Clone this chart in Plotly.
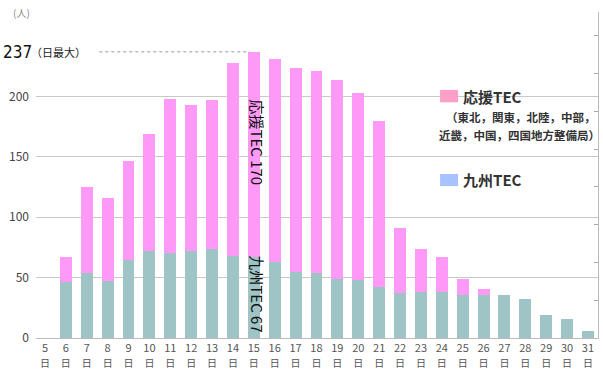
import plotly.graph_objects as go

days = list(range(5, 32))
kyushu = [0, 46, 54, 47, 65, 72, 70, 72, 74, 68, 67, 63, 55, 54, 49, 48, 42,
          37, 38, 38, 36, 36, 36, 32, 19, 16, 6]
total = [0, 67, 125, 116, 147, 169, 198, 193, 197, 228, 237, 231, 224, 221, 214, 203, 180,
         91, 74, 67, 49, 41, 36, 32, 19, 16, 6]
support = [t - k for t, k in zip(total, kyushu)]
tick_labels = [f"{d}<br><span style='font-size:10px'>日</span>" for d in days]
y_ticks = [0, 50, 100, 150, 200]

JP = "Noto Sans CJK JP"
PINK = "#FF99F8"
TEAL = "#9EC4C6"

fig = go.Figure()
fig.add_bar(x=days, y=kyushu, marker_color=TEAL, width=0.57, marker_line_width=0,
            showlegend=False)
fig.add_bar(x=days, y=support, marker_color=PINK, width=0.57, marker_line_width=0,
            showlegend=False)
# invisible trace for decorative right axis
fig.add_scatter(x=[days[0]], y=[0], yaxis="y2", mode="markers",
                marker_opacity=0, showlegend=False, hoverinfo="skip")

fig.update_layout(
    barmode="stack",
    width=603, height=370,
    margin=dict(l=36, r=5, t=12, b=32),
    plot_bgcolor="white", paper_bgcolor="white",
    font=dict(family=JP, color="#444"),
    xaxis=dict(range=[4.57, 31.48], tickmode="array", tickvals=days, ticktext=tick_labels,
               tickfont=dict(size=11, color="#555"), showgrid=False, zeroline=False,
               showline=True, linecolor="#bbbbbb", ticks="", automargin=False),
    yaxis=dict(range=[0, 270], tickvals=y_ticks, tickfont=dict(size=12, color="#444"),
               showgrid=True, gridcolor="#c8c8c8", gridwidth=1, zeroline=False,
               ticks="", ticklabelstandoff=6, automargin=False),
    yaxis2=dict(overlaying="y", side="right", range=[0, 270], dtick=31.3,
                showticklabels=False, ticks="inside", ticklen=4, tickcolor="#aaaaaa",
                showline=True, linecolor="#bbbbbb", showgrid=False, zeroline=False,
                automargin=False),
)

# dotted max line
fig.add_shape(type="line", x0=7.6, x1=14.8, y0=max(total), y1=max(total),
              line=dict(color="#999", width=1, dash="dot"), layer="below")

ann = []
ann.append(dict(xref="paper", yref="y", x=-0.063, y=max(total), xanchor="left",
                text=str(max(total)), showarrow=False,
                font=dict(family="Liberation Sans Narrow, DejaVu Sans Condensed", size=17, color="#111")))
ann.append(dict(xref="paper", yref="y", x=-0.012, y=max(total), xanchor="left",
                text="（日最大）", showarrow=False, font=dict(family=JP, size=11, color="#222")))
ann.append(dict(xref="paper", yref="paper", x=-0.045, y=1.0, xanchor="left", yanchor="middle",
                text="(人)", showarrow=False, font=dict(family=JP, size=10, color="#888")))
ann.append(dict(x=15.2, y=162, text=f"応援TEC {support[10]}", textangle=90, showarrow=False,
                font=dict(family=JP, size=15, color="#111")))
ann.append(dict(x=15.2, y=37, text=f"九州TEC {kyushu[10]}", textangle=90, showarrow=False,
                font=dict(family=JP, size=15, color="#111")))
# legend
ann.append(dict(xref="paper", yref="paper", x=0.756, y=0.742, xanchor="left", yanchor="middle",
                text="<b>応援TEC</b>", showarrow=False, font=dict(family=JP, size=15, color="#333")))
ann.append(dict(xref="paper", yref="paper", x=1.0, y=0.678, xanchor="right", yanchor="middle",
                text="<b>（東北，関東，北陸，中部，</b>", showarrow=False, font=dict(family=JP, size=11.5, color="#333")))
ann.append(dict(xref="paper", yref="paper", x=1.008, y=0.623, xanchor="right", yanchor="middle",
                text="<b>近畿，中国，四国地方整備局）</b>", showarrow=False, font=dict(family=JP, size=11.5, color="#333")))
ann.append(dict(xref="paper", yref="paper", x=0.756, y=0.485, xanchor="left", yanchor="middle",
                text="<b>九州TEC</b>", showarrow=False, font=dict(family=JP, size=15, color="#333")))
fig.update_layout(annotations=ann)

fig.add_shape(type="rect", xref="paper", yref="paper", x0=0.719, x1=0.751, y0=0.723, y1=0.761,
              fillcolor="#FF9EC6", line_width=0)
fig.add_shape(type="rect", xref="paper", yref="paper", x0=0.719, x1=0.751, y0=0.466, y1=0.503,
              fillcolor="#A8C2FF", line_width=0)

fig.write_html("out.html")
